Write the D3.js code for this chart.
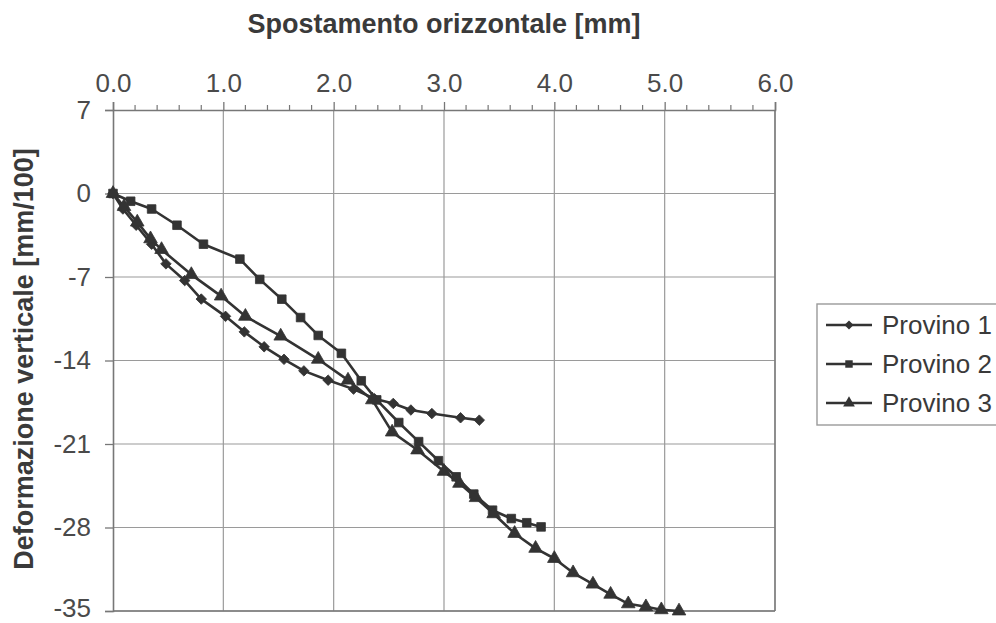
<!DOCTYPE html>
<html>
<head>
<meta charset="utf-8">
<script src="https://cdn.jsdelivr.net/npm/d3@7"></script>
<style>
  html, body { margin: 0; padding: 0; background: #fff; }
  svg { display: block; font-family: "Liberation Sans", Arial, sans-serif; }
</style>
</head>
<body>
<svg id="chart" width="996" height="623"></svg>
<script>
// ---- data ----
const xTicks = [0, 1, 2, 3, 4, 5, 6];
const yTicks = [7, 0, -7, -14, -21, -28, -35];
const seriesNames = ["Provino 1", "Provino 2", "Provino 3"];

const p1x = [0, 0.09, 0.21, 0.35, 0.48, 0.65, 0.80, 1.02, 1.19, 1.37, 1.55, 1.73, 1.95, 2.18, 2.37, 2.54, 2.70, 2.89, 3.15, 3.32];
const p1y = [0, -1.3, -2.66, -4.25, -5.9, -7.3, -8.85, -10.3, -11.6, -12.85, -13.9, -14.87, -15.65, -16.4, -17.2, -17.6, -18.15, -18.45, -18.8, -19.0];

const p2x = [0, 0.16, 0.35, 0.58, 0.82, 1.15, 1.33, 1.53, 1.70, 1.86, 2.07, 2.25, 2.39, 2.59, 2.77, 2.95, 3.11, 3.27, 3.44, 3.61, 3.75, 3.88];
const p2y = [0, -0.65, -1.3, -2.66, -4.25, -5.5, -7.2, -8.86, -10.4, -11.9, -13.4, -15.7, -17.3, -19.2, -20.8, -22.4, -23.75, -25.2, -26.55, -27.25, -27.6, -27.95];

const p3x = [0, 0.1, 0.22, 0.34, 0.44, 0.71, 0.98, 1.20, 1.52, 1.86, 2.13, 2.35, 2.53, 2.76, 3.00, 3.14, 3.29, 3.45, 3.64, 3.83, 4.00, 4.17, 4.35, 4.51, 4.67, 4.83, 4.97, 5.13];
const p3y = [0, -1.1, -2.4, -3.8, -4.7, -6.8, -8.6, -10.3, -11.96, -13.9, -15.65, -17.3, -20.0, -21.5, -23.3, -24.3, -25.5, -26.85, -28.5, -29.75, -30.6, -31.8, -32.75, -33.6, -34.4, -34.65, -34.9, -35.0];

// ---- layout ----
const svg = d3.select("#chart");
const L = 113, R = 775, T = 110, B = 611;
const x = d3.scaleLinear().domain([0, 6]).range([L, R]);
const y = d3.scaleLinear().domain([-35, 7]).range([B, T]);

const ink = "#333";
const gridCol = "#9a9a9a";
const frameCol = "#777";

// gridlines
svg.append("g").selectAll("line").data(xTicks.slice(1)).join("line")
  .attr("x1", d => x(d)).attr("x2", d => x(d)).attr("y1", T).attr("y2", B)
  .attr("stroke", gridCol).attr("stroke-width", 1.2);
svg.append("g").selectAll("line").data(yTicks.slice(1)).join("line")
  .attr("x1", L).attr("x2", R).attr("y1", d => y(d)).attr("y2", d => y(d))
  .attr("stroke", gridCol).attr("stroke-width", 1.2);

// frame right and bottom
svg.append("line").attr("x1", R).attr("x2", R).attr("y1", T).attr("y2", B)
  .attr("stroke", frameCol).attr("stroke-width", 1.4);
svg.append("line").attr("x1", L).attr("x2", R).attr("y1", B).attr("y2", B)
  .attr("stroke", frameCol).attr("stroke-width", 1.6);

// top axis
const xAxis = d3.axisTop(x).tickValues(xTicks).tickFormat(d => d.toFixed(1)).tickSize(8).tickPadding(10);
const gx = svg.append("g").attr("transform", `translate(0,${T})`).call(xAxis);
gx.select(".domain").attr("stroke", frameCol).attr("stroke-width", 1.6);
gx.selectAll(".tick line").attr("stroke", frameCol).attr("stroke-width", 1.3);
gx.selectAll(".tick text").attr("font-size", 26).attr("fill", "#4a4a4a")
  .attr("font-family", "Liberation Sans, Arial, sans-serif");
// minor ticks
const minor = d3.range(0, 6.001, 0.2).filter(v => Math.abs(v - Math.round(v)) > 1e-6);
svg.append("g").selectAll("line").data(minor).join("line")
  .attr("x1", d => x(d)).attr("x2", d => x(d)).attr("y1", T).attr("y2", T - 5)
  .attr("stroke", frameCol).attr("stroke-width", 1.2);

// left axis
const yAxis = d3.axisLeft(y).tickValues(yTicks).tickFormat(d => String(d)).tickSize(8).tickPadding(14);
const gy = svg.append("g").attr("transform", `translate(${L},0)`).call(yAxis);
gy.select(".domain").attr("stroke", frameCol).attr("stroke-width", 1.6);
gy.selectAll(".tick line").attr("stroke", frameCol).attr("stroke-width", 1.3);
gy.selectAll(".tick text").attr("font-size", 26).attr("fill", "#4a4a4a")
  .attr("font-family", "Liberation Sans, Arial, sans-serif")
  .attr("dy", d => d === -35 ? "0.2em" : "0.32em");

// titles
svg.append("text").attr("x", 444).attr("y", 33).attr("text-anchor", "middle")
  .attr("font-size", 27).attr("font-weight", "bold").attr("fill", "#3a3a3a")
  .text("Spostamento orizzontale [mm]");
svg.append("text").attr("transform", "translate(33,359) rotate(-90)").attr("text-anchor", "middle")
  .attr("font-size", 27).attr("font-weight", "bold").attr("fill", "#3a3a3a")
  .text("Deformazione verticale [mm/100]");

// series
const series = [
  { name: seriesNames[0], xs: p1x, ys: p1y, type: "diamond" },
  { name: seriesNames[1], xs: p2x, ys: p2y, type: "square" },
  { name: seriesNames[2], xs: p3x, ys: p3y, type: "triangle" }
];
function symbolPath(type, scale) {
  if (type === "diamond") return d3.symbol(d3.symbolSquare, 55 * scale)();
  if (type === "square") return d3.symbol(d3.symbolSquare, 74 * scale)();
  return d3.symbol(d3.symbolTriangle, 80 * scale)();
}
function symbolRot(type) { return type === "diamond" ? 45 : 0; }

const line = d3.line().x(d => x(d[0])).y(d => y(d[1]));
const gS = svg.append("g");
series.forEach(s => {
  const pts = s.xs.map((v, i) => [v, s.ys[i]]);
  gS.append("path").datum(pts).attr("d", line)
    .attr("fill", "none").attr("stroke", ink).attr("stroke-width", 2.6).attr("stroke-linejoin", "round");
});
series.forEach(s => {
  const pts = s.xs.map((v, i) => [v, s.ys[i]]);
  gS.append("g").selectAll("path").data(pts).join("path")
    .attr("d", symbolPath(s.type, 1))
    .attr("transform", d => `translate(${x(d[0])},${y(d[1])}) rotate(${symbolRot(s.type)})`)
    .attr("fill", ink).attr("stroke", ink).attr("stroke-width", 0.8);
});

// legend
const lg = svg.append("g");
lg.append("rect").attr("x", 817).attr("y", 304).attr("width", 190).attr("height", 121)
  .attr("fill", "#fff").attr("stroke", "#9a9a9a").attr("stroke-width", 1.4);
const rowY = [325, 364, 403];
series.forEach((s, i) => {
  const yy = rowY[i];
  lg.append("line").attr("x1", 826).attr("x2", 872).attr("y1", yy).attr("y2", yy)
    .attr("stroke", ink).attr("stroke-width", 2.4);
  lg.append("path").attr("d", symbolPath(s.type, 0.75))
    .attr("transform", `translate(849,${yy}) rotate(${symbolRot(s.type)})`)
    .attr("fill", ink);
  lg.append("text").attr("x", 882).attr("y", yy).attr("dy", "0.36em")
    .attr("font-size", 26).attr("fill", "#3a3a3a").text(s.name);
});
</script>
</body>
</html>
